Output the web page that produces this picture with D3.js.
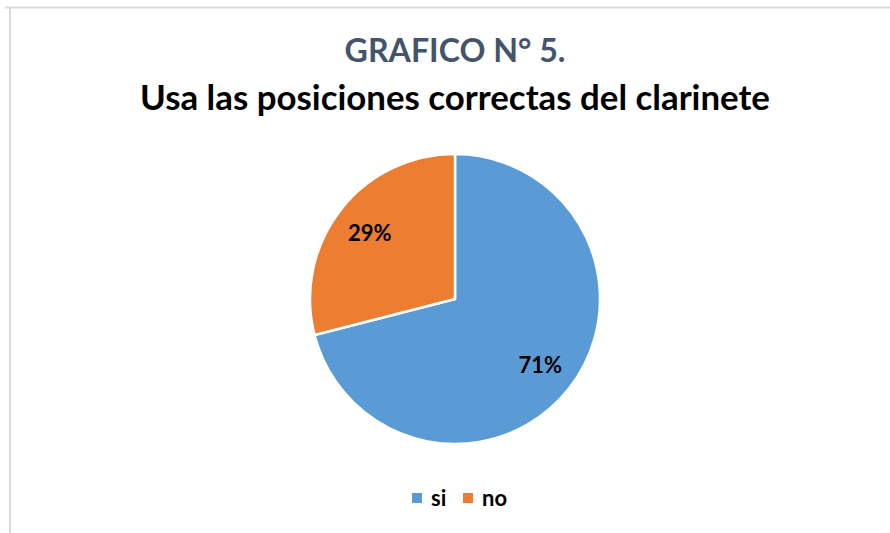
<!DOCTYPE html>
<html><head><meta charset="utf-8">
<script src="https://cdn.jsdelivr.net/npm/d3@7"></script>
<style>html,body{margin:0;padding:0;background:#fff;}svg{display:block;}</style>
</head><body>
<svg id="c" width="890" height="533"></svg>
<script>
const categories = ["si", "no"];
const values = [71, 29];
const labels = ["71%", "29%"];
const colors = ["#5B9BD5", "#ED7D31"];
const titleLine1 = "GRAFICO N° 5.";
const titleLine2 = "Usa las posiciones correctas del clarinete";

const svg = d3.select("#c");
const font = "Lato, 'Open Sans', sans-serif";

// frame
svg.append("line").attr("x1", 5).attr("x2", 890).attr("y1", 7.5).attr("y2", 7.5)
  .attr("stroke", "#d9d9d9").attr("stroke-width", 2);
svg.append("line").attr("x1", 10).attr("x2", 10).attr("y1", 7).attr("y2", 533)
  .attr("stroke", "#d9d9d9").attr("stroke-width", 2);

function fitText(sel, target, size) {
  const w = sel.node().getComputedTextLength();
  sel.attr("font-size", size * target / w);
}

const t1 = svg.append("text").attr("x", 455).attr("y", 62).attr("text-anchor", "middle")
  .attr("font-family", font).attr("font-weight", "bold").attr("font-size", 28)
  .attr("fill", "#44546A").text(titleLine1);
fitText(t1, 221, 28);
const t2 = svg.append("text").attr("x", 455).attr("y", 110).attr("text-anchor", "middle")
  .attr("font-family", font).attr("font-weight", "bold").attr("font-size", 28)
  .attr("fill", "#000").text(titleLine2);
fitText(t2, 630, 28);

const cx = 455, cy = 299, r = 145;
const pie = d3.pie().sort(null).value(d => d)(values);
const arc = d3.arc().innerRadius(0).outerRadius(r);
const labelArc = d3.arc().innerRadius(108).outerRadius(108);
const g = svg.append("g").attr("transform", `translate(${cx},${cy})`);
g.selectAll("path").data(pie).join("path")
  .attr("d", arc).attr("fill", (d, i) => colors[i])
  .attr("stroke", "#fff").attr("stroke-width", 2.5).attr("stroke-linejoin", "round");
g.selectAll("text").data(pie).join("text")
  .attr("transform", d => `translate(${labelArc.centroid(d)})`)
  .attr("text-anchor", "middle").attr("dy", "0.36em")
  .attr("font-family", font).attr("font-weight", "bold").attr("font-size", 22)
  .attr("fill", "#000").text((d, i) => labels[i]);

// legend
const legX = [412, 463];
const lg = svg.append("g");
categories.forEach((c, i) => {
  lg.append("rect").attr("x", legX[i]).attr("y", 493).attr("width", 10).attr("height", 10)
    .attr("fill", colors[i]);
  lg.append("text").attr("x", legX[i] + 19).attr("y", 506)
    .attr("font-family", font).attr("font-weight", "bold").attr("font-size", 22)
    .attr("fill", "#000").text(c);
});
</script>
</body></html>
